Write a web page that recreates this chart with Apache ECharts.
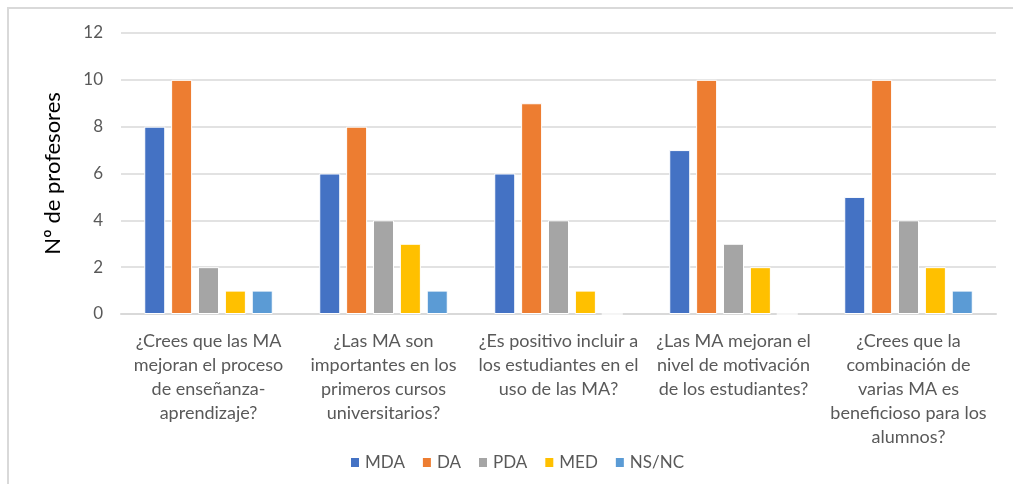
<!DOCTYPE html>
<html>
<head>
<meta charset="utf-8">
<script src="https://cdn.jsdelivr.net/npm/echarts@6/dist/echarts.min.js"></script>
<style>
html,body{margin:0;padding:0;background:#fff;}
#frame{position:absolute;left:7px;top:7px;width:1100px;height:600px;border:2px solid #d9d9d9;box-sizing:border-box;}
#chart{position:absolute;left:0;top:0;width:1013px;height:484px;}
</style>
</head>
<body>
<div id="frame"></div>
<div id="chart"></div>
<script>
const categories = [
  "¿Crees que las MA\nmejoran el proceso\nde enseñanza-\naprendizaje?",
  "¿Las MA son\nimportantes en los\nprimeros cursos\nuniversitarios?",
  "¿Es positivo incluir a\nlos estudiantes en el\nuso de las MA?",
  "¿Las MA mejoran el\nnivel de motivación\nde los estudiantes?",
  "¿Crees que la\ncombinación de\nvarias MA es\nbeneficioso para los\nalumnos?"
];
const seriesNames = ["MDA", "DA", "PDA", "MED", "NS/NC"];
const MDA = [8, 6, 6, 7, 5];
const DA = [10, 8, 9, 10, 10];
const PDA = [2, 4, 4, 3, 4];
const MED = [1, 3, 1, 2, 2];
const NSNC = [1, 1, 0, 0, 1];
const yTicks = [0, 2, 4, 6, 8, 10, 12];
const colors = ["#4472C4", "#ED7D31", "#A5A5A5", "#FFC000", "#5B9BD5"];

const values = [MDA, DA, PDA, MED, NSNC];
const chart = echarts.init(document.getElementById('chart'), null, {renderer: 'canvas'});
const font = "Lato, 'Open Sans', sans-serif";
chart.setOption({
  animation: false,
  textStyle: {fontFamily: font},
  color: colors,
  grid: {left: 121, right: 17, top: 33, bottom: 170, containLabel: false},
  legend: {
    data: seriesNames,
    left: 344,
    top: 449,
    icon: 'rect',
    itemWidth: 10,
    itemHeight: 11,
    itemGap: 16,
    textStyle: {color: '#595959', fontSize: 17, fontFamily: font}
  },
  xAxis: {
    type: 'category',
    data: categories,
    axisLine: {lineStyle: {color: '#d9d9d9', width: 2}},
    axisTick: {show: false},
    axisLabel: {color: '#595959', fontSize: 18, lineHeight: 24, margin: 15, interval: 0, fontFamily: font}
  },
  yAxis: {
    type: 'value',
    min: yTicks[0],
    max: yTicks[yTicks.length - 1],
    interval: 2,
    name: 'Nº de profesores',
    nameLocation: 'middle',
    nameRotate: 90,
    nameGap: 57,
    nameTextStyle: {color: '#000', fontSize: 22, fontFamily: font},
    axisLabel: {color: '#595959', fontSize: 17, margin: 18, fontFamily: font},
    axisLine: {show: false},
    axisTick: {show: false},
    splitLine: {lineStyle: {color: '#d9d9d9', width: 1.5}}
  },
  series: seriesNames.map((n, i) => ({
    name: n,
    type: 'bar',
    data: values[i],
    barWidth: 21,
    barGap: '28%',
    itemStyle: {color: colors[i], borderColor: '#fff', borderWidth: 1}
  }))
});
</script>
</body>
</html>
